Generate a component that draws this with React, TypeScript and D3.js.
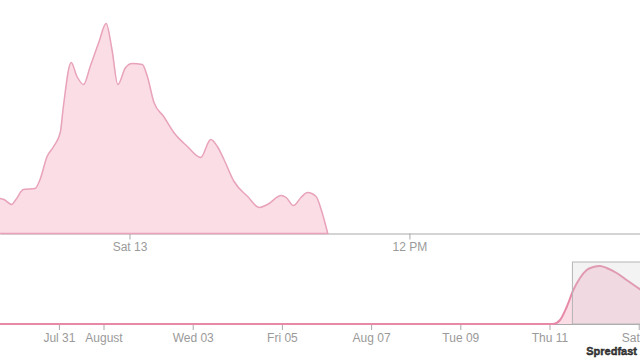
import React, { useEffect, useRef } from "react";
import * as d3 from "d3";

// Focus (top) chart data
const focusTimes = [
  "2016-08-12T18:00", "2016-08-12T18:27", "2016-08-12T18:37", "2016-08-12T18:57", "2016-08-12T19:08",
  "2016-08-12T19:27", "2016-08-12T19:57", "2016-08-12T20:10", "2016-08-12T20:28", "2016-08-12T20:45",
  "2016-08-12T21:02", "2016-08-12T21:10", "2016-08-12T21:30", "2016-08-12T21:45", "2016-08-12T22:02",
  "2016-08-12T22:19", "2016-08-12T22:41", "2016-08-12T23:00", "2016-08-12T23:15", "2016-08-12T23:30",
  "2016-08-12T23:50", "2016-08-13T00:07", "2016-08-13T00:33", "2016-08-13T00:46", "2016-08-13T01:03",
  "2016-08-13T01:28", "2016-08-13T01:54", "2016-08-13T02:29", "2016-08-13T03:03", "2016-08-13T03:29",
  "2016-08-13T03:46", "2016-08-13T04:03", "2016-08-13T04:29", "2016-08-13T05:04", "2016-08-13T05:34",
  "2016-08-13T05:55", "2016-08-13T06:30", "2016-08-13T06:43", "2016-08-13T07:02", "2016-08-13T07:21",
  "2016-08-13T07:38", "2016-08-13T08:00", "2016-08-13T08:13", "2016-08-13T08:30",
];
const focusValues = [
  36, 35, 34, 29, 34,
  44, 45, 54, 77, 87,
  101, 127, 171, 157, 149,
  167, 191, 210, 184, 149,
  166, 170, 169, 157, 131,
  117, 101, 87, 76, 94,
  87, 74, 52, 37, 26,
  29, 38, 36, 28, 36,
  41, 37, 24, 0,
];

// Context (bottom) chart data
const contextTimes = [
  "2016-07-29T12:00", "2016-08-11T02:00", "2016-08-11T05:40", "2016-08-11T09:15", "2016-08-11T12:50",
  "2016-08-11T16:25", "2016-08-11T20:00", "2016-08-11T23:35", "2016-08-12T03:10", "2016-08-12T06:45",
  "2016-08-12T12:10", "2016-08-12T17:30", "2016-08-12T22:55", "2016-08-13T06:00",
];
const contextValues = [0, 0, 4, 17, 34, 46, 54, 57, 58, 56, 51, 44, 37, 28];

const focusDomain = ["2016-08-12T18:27", "2016-08-13T21:53"];
const contextDomain = ["2016-07-29T16:18", "2016-08-13T00:42"];
const brushExtent = ["2016-08-11T12:20", "2016-08-13T06:00"];
const watermark = "Spredfast";

const W = 640;
const H = 360;

export default function App() {
  const ref = useRef<SVGSVGElement | null>(null);

  useEffect(() => {
    const parse = d3.timeParse("%Y-%m-%dT%H:%M");
    const svg = d3.select(ref.current);
    svg.selectAll("*").remove();

    const focusData = focusTimes.map((t, i) => ({ t: parse(t) as Date, v: focusValues[i] }));
    const contextData = contextTimes.map((t, i) => ({ t: parse(t) as Date, v: contextValues[i] }));

    const fill = "#fbdde6";
    const stroke = "#e8a2b9";

    // ---- Focus chart
    const xF = d3.scaleTime().domain(focusDomain.map((d) => parse(d) as Date)).range([0, W]);
    const yF = d3.scaleLinear().domain([0, 220]).range([233.5, 13.5]);

    const gF = svg.append("g");
    const axF = d3.axisBottom(xF).ticks(d3.timeHour.every(12)).tickSizeOuter(0);
    const axFG = gF.append("g").attr("transform", "translate(0,233.5)").call(axF as any);
    axFG.select(".domain").attr("stroke", "#a9a9a9");
    axFG.selectAll(".tick line").attr("stroke", "#a9a9a9");
    axFG.selectAll(".tick text")
      .attr("fill", "#9a9a9a")
      .attr("font-size", 12)
      .attr("font-family", "Liberation Sans, Arial, sans-serif");

    const areaF = d3.area<{ t: Date; v: number }>()
      .x((d) => xF(d.t))
      .y0(yF(0))
      .y1((d) => yF(d.v))
      .curve(d3.curveMonotoneX);
    gF.append("path")
      .datum(focusData)
      .attr("d", areaF)
      .attr("fill", fill)
      .attr("stroke", stroke)
      .attr("stroke-width", 1.5);

    // ---- Context chart
    const xC = d3.scaleTime().domain(contextDomain.map((d) => parse(d) as Date)).range([0, W]);
    const yC = d3.scaleLinear().domain([0, 60]).range([324, 264]);

    const gC = svg.append("g");
    const axC = d3.axisBottom(xC).ticks(d3.timeDay.every(2)).tickSizeOuter(0);
    const axCG = gC.append("g").attr("transform", "translate(0,324)").call(axC as any);
    axCG.select(".domain").attr("stroke", "#a9a9a9");
    axCG.selectAll(".tick line").attr("stroke", "#a9a9a9");
    axCG.selectAll(".tick text")
      .attr("fill", "#9a9a9a")
      .attr("font-size", 12)
      .attr("font-family", "Liberation Sans, Arial, sans-serif");

    const areaC = d3.area<{ t: Date; v: number }>()
      .x((d) => xC(d.t))
      .y0(yC(0))
      .y1((d) => yC(d.v))
      .curve(d3.curveMonotoneX);
    gC.append("path")
      .datum(contextData)
      .attr("d", areaC)
      .attr("fill", fill)
      .attr("stroke", "none");
    const lineC = d3.line<{ t: Date; v: number }>()
      .x((d) => xC(d.t))
      .y((d) => yC(d.v))
      .curve(d3.curveMonotoneX);
    gC.append("path")
      .datum(contextData)
      .attr("d", lineC)
      .attr("fill", "none")
      .attr("stroke", "#e68aa8")
      .attr("stroke-width", 2);

    // brush extent
    const bx0 = xC(parse(brushExtent[0]) as Date);
    const bx1 = xC(parse(brushExtent[1]) as Date);
    gC.append("rect")
      .attr("x", bx0)
      .attr("y", 262)
      .attr("width", bx1 - bx0)
      .attr("height", yC(0) - 262)
      .attr("fill", "#cfcfcf")
      .attr("fill-opacity", 0.25)
      .attr("stroke", "#b5b5b5")
      .attr("stroke-width", 1);

    // watermark
    svg.append("text")
      .attr("x", 637)
      .attr("y", 355)
      .attr("text-anchor", "end")
      .attr("font-family", "Liberation Sans, Arial, sans-serif")
      .attr("font-weight", "bold")
      .attr("font-size", 11)
      .attr("fill", "#444")
      .attr("stroke", "#111")
      .attr("stroke-width", 0.4)
      .text(watermark);
  }, []);

  return (
    <svg
      ref={ref}
      width={W}
      height={H}
      style={{ position: "absolute", left: 0, top: 0, display: "block", background: "#fff" }}
    />
  );
}
